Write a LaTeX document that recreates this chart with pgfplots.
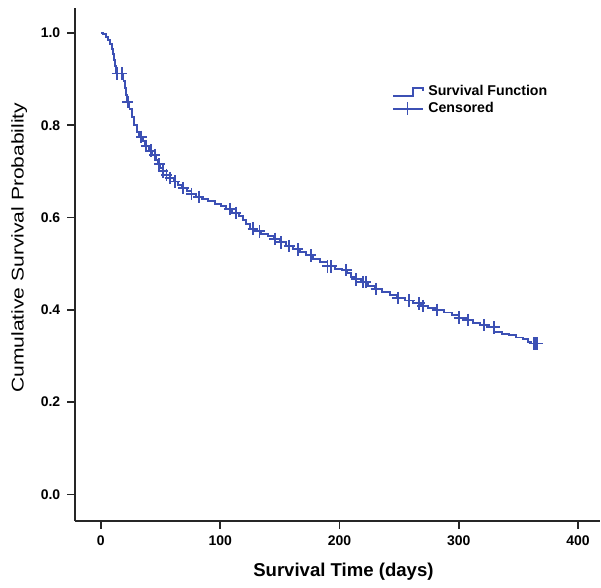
\documentclass[border=0pt]{standalone}
\usepackage{pgfplots}
\pgfplotsset{compat=1.18}
\usepackage{fontspec}
\setmainfont{Liberation Sans}
\definecolor{kmblue}{HTML}{3C50B4}

\begin{document}
\begin{tikzpicture}
\begin{axis}[
  scale only axis, width=263pt, height=257pt,
  xmin=-21.8, xmax=418.4, ymin=-0.058, ymax=1.054,
  axis x line*=bottom, axis y line*=left,
  axis line style={line width=1pt, black!85},
  tick style={line width=0.8pt, black!85},
  tick align=outside, major tick length=3.8pt,
  xtick={0,100,...,400}, ytick={0,0.2,...,1.0},
  yticklabel style={/pgf/number format/.cd, fixed, fixed zerofill, precision=1},
  ticklabel style={font=\fontsize{7}{8}\selectfont\bfseries},
  /pgf/number format/assume math mode=true,
  xlabel={\bfseries Survival Time (days)},
  ylabel={\scalebox{1.24}[1]{Cumulative Survival Probability}},
  xlabel style={font=\fontsize{9.3}{10}\selectfont, yshift=-2pt, xshift=3pt},
  ylabel style={font=\fontsize{8.5}{9}\selectfont, at={(ticklabel cs:0.533)}},
  legend style={draw=none, fill=none, at={(rel axis cs:0.6,0.861)}, anchor=north west,
    font=\fontsize{7.1}{8}\selectfont\bfseries, row sep=-2.5pt, inner sep=1pt},
  legend cell align=left,
]
\addplot[const plot, kmblue, line width=0.95pt,
  legend image code/.code={\draw[kmblue, line width=0.95pt] (-0.05cm,-0.06cm) -- (0.3cm,-0.06cm) -- (0.3cm,0.07cm) -- (0.48cm,0.07cm) -- (0.48cm,0.02cm);}]
coordinates {
(0,1.000) (2,0.997) (4,0.992) (6,0.985) (8,0.975) (9,0.965) (10,0.955)
(11,0.942) (12,0.928) (13,0.912)
(19,0.895) (20,0.880) (21,0.865) (22,0.850) (24,0.835) (26,0.818) (28,0.800) (30,0.785)
(32,0.775) (35,0.765) (37,0.755) (40,0.745) (43,0.735) (46,0.725) (48,0.715)
(50,0.708) (52,0.700) (55,0.692) (58,0.685) (61,0.678) (65,0.670) (68,0.664)
(72,0.658) (76,0.651) (80,0.645) (85,0.640) (90,0.635) (96,0.629) (101,0.624)
(105,0.618) (110,0.610) (116,0.603) (119,0.594) (122,0.585) (125,0.576)
(129,0.570) (134,0.565) (140,0.560) (145,0.554) (150,0.546) (155,0.538)
(161,0.531) (167,0.525) (172,0.518) (178,0.510) (184,0.503) (190,0.494)
(196,0.488) (202,0.486) (206,0.480) (210,0.472) (214,0.466) (218,0.460)
(224,0.452) (230,0.445) (236,0.439) (242,0.432) (248,0.426) (255,0.420)
(262,0.414) (268,0.408) (274,0.404) (282,0.400) (288,0.394) (294,0.388)
(300,0.383) (306,0.378) (312,0.372) (318,0.367) (324,0.362) (330,0.352)
(336,0.348) (342,0.345) (348,0.340) (354,0.336) (358,0.331) (361,0.327)
(366,0.327)
};
\addlegendentry{Survival Function}
\addplot[only marks, mark=+, kmblue, mark size=2.7pt, mark options={line width=0.95pt, yscale=1.15},
  legend image code/.code={\draw[kmblue, line width=0.95pt] (-0.05cm,0cm) -- (0.48cm,0cm); \draw[kmblue, line width=0.95pt] (0.2cm,-0.11cm) -- (0.2cm,0.11cm);}]
coordinates {
(13.5,0.912) (17.5,0.912) (22.5,0.850) (34,0.775) (38,0.755) (42,0.745)
(45,0.735) (49,0.715) (52,0.700) (55,0.692) (58,0.685) (62,0.678) (69,0.664)
(76,0.651) (82,0.645) (108,0.618) (113,0.610) (127.5,0.576) (133,0.570)
(145.6,0.554) (151,0.546) (158,0.538) (165,0.531) (176,0.518) (190,0.494)
(193,0.494) (205.6,0.486) (214,0.466) (219.5,0.460) (222,0.460) (230.7,0.445)
(248.8,0.426) (258.6,0.420) (267,0.414) (269.7,0.408) (282,0.400) (300.4,0.383)
(307.4,0.378) (321.3,0.367) (329.7,0.362) (363,0.327) (364.5,0.327) (366,0.327)
};
\addlegendentry{Censored}
\coordinate (O) at (rel axis cs:0,0);
\coordinate (T) at (rel axis cs:1,1);
\end{axis}
\path ([shift={(-37.5pt,-31.65pt)}]O) rectangle ([shift={(0pt,4pt)}]T);
\end{tikzpicture}
\end{document}
